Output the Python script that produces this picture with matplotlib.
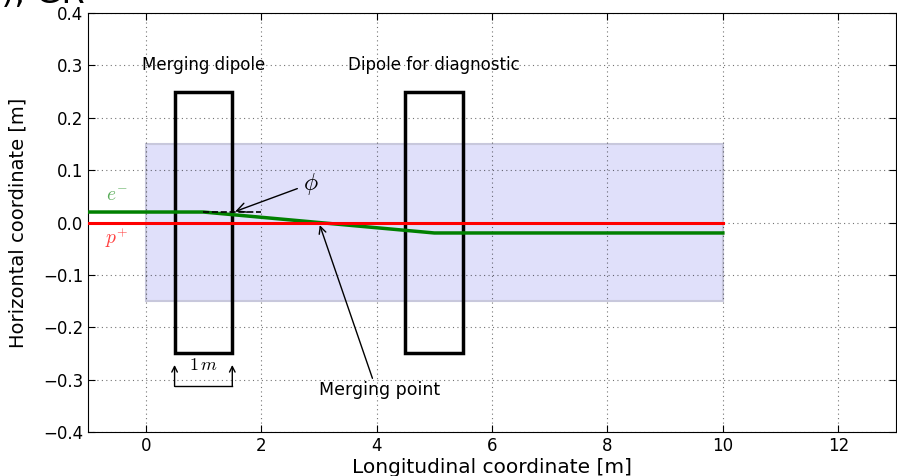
import numpy as np
import matplotlib
matplotlib.use("Agg")
import matplotlib.pyplot as plt
from matplotlib.patches import Rectangle

plt.rcParams['mathtext.fontset'] = 'cm'

# beam trajectories (longitudinal position [m], horizontal offset [m])
electron_s = [-1.0, 1.0, 5.0, 10.0]
electron_x = [0.02, 0.02, -0.02, -0.02]
proton_s = [-1.0, 10.0]
proton_x = [0.0, 0.0]

# dipoles: (start, length, half aperture)
dipole_start = [0.5, 4.5]
dipole_length = [1.0, 1.0]
dipole_half = [0.25, 0.25]
dipole_names = ['Merging dipole', 'Dipole for diagnostic']
dipole_label_s = [1.0, 5.0]

# beam pipe region
pipe_s = [0.0, 10.0]
pipe_half = 0.15

merge_point = (3.0, 0.0)
angle_ref = [1.0, 2.0]

xticks = np.arange(0, 13, 2)
yticks = np.linspace(-0.4, 0.4, 9)

fig = plt.figure(figsize=(8.97, 4.76), dpi=100)
ax = fig.add_axes([88 / 897, 44 / 476, 808 / 897, 419 / 476])

ax.add_patch(Rectangle((pipe_s[0], -pipe_half), pipe_s[1] - pipe_s[0], 2 * pipe_half,
                       facecolor='#e0e0fa', edgecolor='#c8c8dc', lw=1.5, zorder=0))

for s0, L, h in zip(dipole_start, dipole_length, dipole_half):
    ax.add_patch(Rectangle((s0, -h), L, 2 * h, fill=False, edgecolor='k', lw=2.5, zorder=3))
for name, s in zip(dipole_names, dipole_label_s):
    ax.text(s, 0.3, name, ha='center', va='center', fontsize=12)

ax.plot(electron_s, electron_x, color='green', lw=2.5, zorder=4)
ax.plot(proton_s, proton_x, color='red', lw=2.2, zorder=4)
ax.plot(angle_ref, [electron_x[0], electron_x[0]], 'k--', lw=1.2, zorder=4)

ax.text(-0.5, 0.052, r'$e^{-}$', color='green', alpha=0.65, fontsize=14, ha='center', va='center')
ax.text(-0.5, -0.03, r'$p^{+}$', color='red', alpha=0.75, fontsize=14, ha='center', va='center')

ax.annotate(r'$\phi$', xy=(1.55, 0.021), xytext=(2.72, 0.074), fontsize=17,
            va='center', ha='left',
            arrowprops=dict(arrowstyle='->', color='k', lw=1, shrinkA=2, shrinkB=0))
ax.annotate('Merging point', xy=merge_point, xytext=(4.05, -0.32), fontsize=12.5,
            ha='center', va='center',
            arrowprops=dict(arrowstyle='->', color='k', lw=1,
                            relpos=(0.45, 1.0), shrinkA=0, shrinkB=2))

# 1 m scale bracket under the merging dipole
for s in [dipole_start[0], dipole_start[0] + dipole_length[0]]:
    ax.annotate('', xy=(s, -0.272), xytext=(s, -0.313),
                arrowprops=dict(arrowstyle='->', color='k', lw=1, shrinkA=0, shrinkB=0))
ax.plot([dipole_start[0], dipole_start[0] + dipole_length[0]], [-0.313, -0.313], 'k-', lw=1)
ax.text(1.0, -0.272, r'$1\,m$', fontsize=13, ha='center', va='center')

ax.set_xlim(-1, 13)
ax.set_ylim(-0.4, 0.4)
ax.set_xticks(xticks)
ax.set_yticks(yticks)
ax.grid(True, color='k', linestyle=(0, (1, 3)), lw=0.8, alpha=0.55)
ax.set_axisbelow(False)
ax.tick_params(direction='in', top=True, right=True, labelsize=12, length=5)
ax.set_xlabel('Longitudinal coordinate [m]', fontsize=14.5, labelpad=2)
ax.set_ylabel('Horizontal coordinate [m]', fontsize=14, labelpad=11)

fig.text(85 / 897, 1 - 3 / 476, '(a), GR', fontsize=24, ha='right', va='baseline')

fig.savefig('out.png', dpi=100)
